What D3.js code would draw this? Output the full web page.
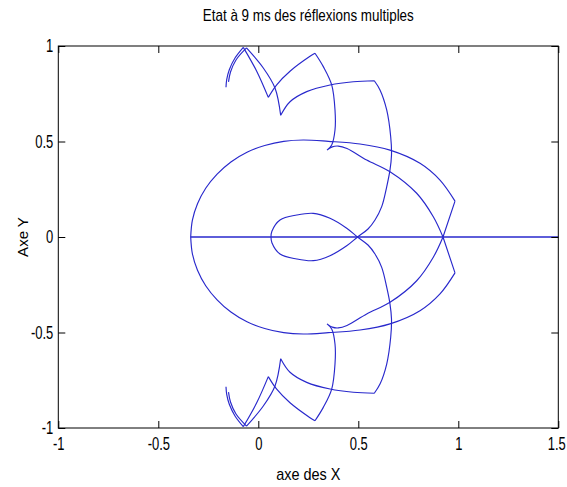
<!DOCTYPE html>
<html>
<head>
<meta charset="utf-8">
<script src="https://cdn.jsdelivr.net/npm/d3@7/dist/d3.min.js"></script>
<style>
  body { margin: 0; background: #fff; }
  text { fill: #000; font-family: "Liberation Sans", Arial, sans-serif; }
</style>
</head>
<body>
<script>
// axis ticks
var xTicks = [-1, -0.5, 0, 0.5, 1, 1.5]
var yTicks = [-1, -0.5, 0, 0.5, 1]
var xTickLabels = ['-1', '-0.5', '0', '0.5', '1', '1.5']
var yTickLabels = ['-1', '-0.5', '0', '0.5', '1']

// straight ray along the axis
var axisRay = [[-0.338, 0], [1.5, 0]]

// wavefronts: upper halves only, split at the corners (lower half = mirror)
var ellipseHalf = [
  [[0.9235, 0], [0.9835, 0.188]],
  [[0.9835, 0.188], [0.9085, 0.298], [0.8085, 0.386], [0.6585, 0.455], [0.5085, 0.487],
    [0.350, 0.501], [0.225, 0.508], [0.127, 0.501], [0.032, 0.479], [-0.0565, 0.444],
    [-0.137, 0.393], [-0.206, 0.329], [-0.263, 0.255], [-0.304, 0.174], [-0.3295, 0.088],
    [-0.338, 0]]
]
var frontOneHalf = [
  [[-0.1615, 0.784], [-0.158, 0.824], [-0.145, 0.876], [-0.1165, 0.937], [-0.075, 0.993]],
  [[-0.075, 0.993], [-0.008, 0.868], [0.050, 0.731]],
  [[0.050, 0.731], [0.092, 0.797], [0.1585, 0.868], [0.2585, 0.946], [0.2835, 0.962]],
  [[0.2835, 0.962], [0.325, 0.892], [0.367, 0.796], [0.3835, 0.665], [0.3835, 0.560],
    [0.367, 0.482], [0.3435, 0.455]],
  [[0.3435, 0.455], [0.37, 0.472], [0.40, 0.476], [0.4435, 0.463], [0.542, 0.403],
    [0.6585, 0.342], [0.792, 0.229], [0.875, 0.106], [0.9235, 0]]
]
var frontTwoHalf = [
  [[-0.149, 0.812], [-0.139, 0.864], [-0.1115, 0.927], [-0.059, 0.990]],
  [[-0.059, 0.990], [0.025, 0.885], [0.0835, 0.780], [0.112, 0.637]],
  [[0.112, 0.637], [0.1585, 0.708], [0.242, 0.761], [0.3585, 0.796], [0.475, 0.813], [0.580, 0.818]],
  [[0.580, 0.818], [0.6085, 0.770], [0.642, 0.665], [0.662, 0.525], [0.666, 0.429],
    [0.6585, 0.351], [0.642, 0.263], [0.617, 0.159], [0.5835, 0.089], [0.5485, 0.042],
    [0.496, 0], [0.442, -0.046], [0.3585, -0.098], [0.275, -0.124], [0.192, -0.115],
    [0.1085, -0.089], [0.068, -0.03], [0.0635, 0]]
]

var width = 567
var height = 487
var plot = { left: 58.3, right: 558.3, top: 46, bottom: 428 }
var lineColor = '#2828cc'

var svg = d3.select('body').append('svg')
  .attr('width', width)
  .attr('height', height)

var x = d3.scaleLinear().domain([-1, 1.5]).range([plot.left, plot.right])
var y = d3.scaleLinear().domain([-1, 1]).range([plot.bottom, plot.top])

function mirror (half) {
  var lower = half.slice().reverse().map(function (seg) {
    return seg.slice().reverse().map(function (p) { return [p[0], -p[1]] })
  })
  return half.concat(lower)
}

var line = d3.line()
  .x(function (d) { return x(d[0]) })
  .y(function (d) { return y(d[1]) })
  .curve(d3.curveCatmullRom.alpha(0.5))

function segPath (segs) {
  return segs.map(function (s) { return line(s) }).join('')
}

// squeeze a text horizontally, the reference font is a narrow one
function narrow (sel, ratio) {
  sel.each(function () {
    var w = this.getComputedTextLength()
    d3.select(this)
      .attr('textLength', w * ratio)
      .attr('lengthAdjust', 'spacingAndGlyphs')
  })
}

var curves = svg.append('g')
  .attr('fill', 'none')
  .attr('stroke', lineColor)
  .attr('stroke-width', 1.15)

curves.append('path').attr('d', segPath([axisRay])).attr('stroke-width', 1.4)
curves.append('path').attr('d', segPath(mirror(ellipseHalf)))
curves.append('path').attr('d', segPath(mirror(frontOneHalf)))
curves.append('path').attr('d', segPath(mirror(frontTwoHalf)))

// axes with inward ticks on all four sides
var tickLen = 7
var xAxis = d3.axisBottom(x).tickValues(xTicks)
  .tickFormat(function (d, i) { return xTickLabels[i] })
  .tickSizeInner(-tickLen).tickSizeOuter(0).tickPadding(9)
var yAxis = d3.axisLeft(y).tickValues(yTicks)
  .tickFormat(function (d, i) { return yTickLabels[i] })
  .tickSizeInner(-tickLen).tickSizeOuter(0).tickPadding(5)

var gx = svg.append('g').attr('transform', 'translate(0,' + plot.bottom + ')').call(xAxis)
svg.append('g').attr('transform', 'translate(' + plot.left + ',0)').call(yAxis)
svg.append('g').attr('transform', 'translate(0,' + plot.top + ')')
  .call(d3.axisTop(x).tickValues(xTicks).tickFormat('').tickSizeInner(-tickLen).tickSizeOuter(0))
svg.append('g').attr('transform', 'translate(' + plot.right + ',0)')
  .call(d3.axisRight(y).tickValues(yTicks).tickFormat('').tickSizeInner(-tickLen).tickSizeOuter(0))

svg.selectAll('.domain').remove()
svg.selectAll('.tick line').attr('stroke', '#000')
svg.selectAll('.tick text')
  .attr('font-family', null)
  .attr('font-size', null)
  .style('font-size', '18px')
  .attr('fill', '#000')
  .call(narrow, 0.72)

// last x label sits against the right edge of the figure
gx.selectAll('.tick text').filter(function (d) { return d === 1.5 }).attr('dx', -2)

svg.append('rect')
  .attr('x', plot.left).attr('y', plot.top)
  .attr('width', plot.right - plot.left).attr('height', plot.bottom - plot.top)
  .attr('fill', 'none').attr('stroke', '#000').attr('stroke-width', 1)

// titles
svg.append('text')
  .attr('x', (plot.left + plot.right) / 2)
  .attr('y', 21)
  .attr('text-anchor', 'middle')
  .style('font-size', '17px')
  .text('Etat à 9 ms des réflexions multiples')
  .attr('textLength', 211)
  .attr('lengthAdjust', 'spacingAndGlyphs')

svg.append('text')
  .attr('x', (plot.left + plot.right) / 2)
  .attr('y', 480)
  .attr('text-anchor', 'middle')
  .style('font-size', '17px')
  .text('axe des X')
  .call(narrow, 0.85)

svg.append('text')
  .attr('transform', 'translate(27.5,' + y(0) + ') rotate(-90)')
  .attr('text-anchor', 'middle')
  .style('font-size', '15px')
  .text('Axe Y')
</script>
</body>
</html>
